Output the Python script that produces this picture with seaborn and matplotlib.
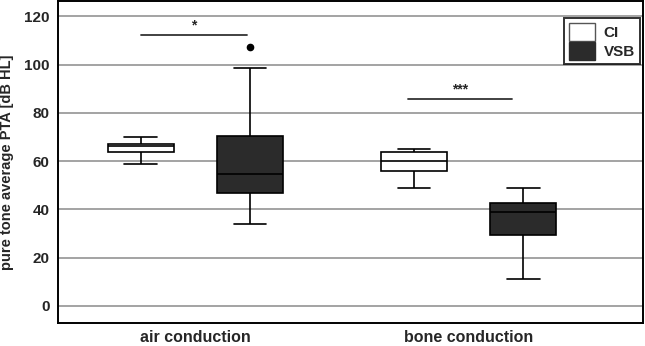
import matplotlib
matplotlib.use("Agg")
import matplotlib.pyplot as plt
from matplotlib.patches import Patch
import seaborn as sns
import pandas as pd

# ---- data ----
groups = ["air conduction", "bone conduction"]
devices = ["CI", "VSB"]
colors = ["#ffffff", "#2b2b2b"]

ci_air = [58.9, 63.7, 66.3, 67.3, 69.9]
vsb_air = [33.8, 40.0, 46.9, 50.0, 54.5, 62.0, 70.5, 98.7, 107.4]
ci_bone = [48.7, 56.1, 59.9, 63.7, 65.0]
vsb_bone = [11.3, 29.2, 38.9, 42.5, 48.7]

sig_labels = ["*", "***"]
sig_heights = [112.4, 85.8]

yticks = [0, 20, 40, 60, 80, 100, 120]

rows = []
for g, d, vals in [(groups[0], devices[0], ci_air), (groups[0], devices[1], vsb_air),
                   (groups[1], devices[0], ci_bone), (groups[1], devices[1], vsb_bone)]:
    for v in vals:
        rows.append({"group": g, "device": d, "value": v})
df = pd.DataFrame(rows)

sns.set_style("white")
plt.rcParams["font.family"] = ["Liberation Sans", "DejaVu Sans"]
plt.rcParams["font.weight"] = "bold"

fig = plt.figure(figsize=(6.45, 3.46), dpi=100)
ax = fig.add_axes([0.09, 0.067, 0.9075, 0.931])

for yv in yticks:
    ax.axhline(yv, color="#8a8a8a", lw=1.1, zorder=0)

sns.boxplot(data=df, x="group", y="value", hue="device", order=groups, hue_order=devices,
            palette=dict(zip(devices, colors)), linecolor="black", linewidth=1.2,
            gap=0.4, width=0.8, whis=1.5, legend=False, ax=ax,
            flierprops=dict(marker="o", markerfacecolor="black", markeredgecolor="black",
                            markersize=4.5))

# significance bars
sig_x = [(-0.2, 0.19), (0.78, 1.16)]
for (x0, x1), lab, h in zip(sig_x, sig_labels, sig_heights):
    ax.plot([x0, x1], [h, h], color="#333333", lw=1.3)
    ax.text((x0 + x1) / 2, h + 1.0, lab, ha="center", va="bottom", fontsize=10, fontweight="bold")

ax.set_xlim(-0.503, 1.64)
ax.set_ylim(-7, 126.5)
ax.set_yticks(yticks)
ax.set_yticklabels([str(t) for t in yticks], fontsize=11, fontweight="bold")
ax.set_xticks([0, 1])
ax.set_xticklabels(groups, fontsize=11.5, fontweight="bold")
ax.tick_params(axis="y", length=0, pad=6)
ax.tick_params(axis="x", length=0, pad=5)
ax.set_xlabel("")
ax.set_ylabel("pure tone average PTA [dB HL]", fontsize=10.5, fontweight="bold", labelpad=7)

for s in ax.spines.values():
    s.set_visible(True)
    s.set_color("black")
    s.set_linewidth(1.4)

handles = [Patch(facecolor=c, edgecolor="#555555" if i == 0 else "#2b2b2b", label=d)
           for i, (c, d) in enumerate(zip(colors, devices))]
leg = ax.legend(handles=handles, loc="upper right", bbox_to_anchor=(0.9935, 0.945),
                fancybox=False, frameon=True, fontsize=11, handlelength=1.7, handleheight=1.4,
                handletextpad=0.6, borderpad=0.3, labelspacing=0.08, borderaxespad=0)
leg.get_frame().set_edgecolor("black")
leg.get_frame().set_linewidth(1.4)
for t in leg.get_texts():
    t.set_fontweight("bold")

fig.savefig("out.png", dpi=100)
